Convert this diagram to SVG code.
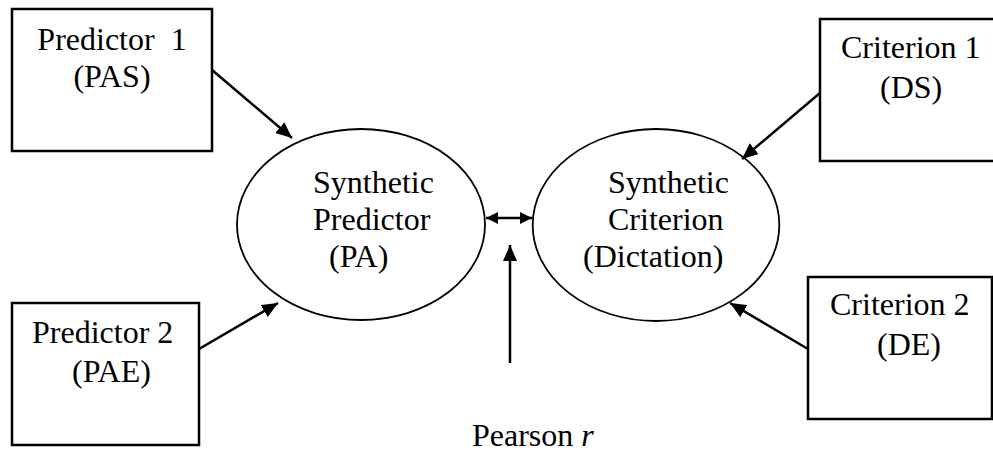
<svg xmlns="http://www.w3.org/2000/svg" width="993" height="452" viewBox="0 0 993 452">
<style>
text{font-family:"Liberation Serif","Times New Roman",serif;font-size:32px;fill:#000}
.box{fill:#fff;stroke:#000;stroke-width:2.5}
.ell{fill:#fff;stroke:#000;stroke-width:1.8}
.con{stroke:#000;stroke-width:2.5;fill:none}
</style>
<defs>
<marker id="ah" markerUnits="userSpaceOnUse" markerWidth="18" markerHeight="14" refX="16" refY="7" orient="auto-start-reverse" viewBox="0 0 18 14">
<path d="M0,0 L16,7 L0,14 z" fill="#000"/>
</marker>
<marker id="ahs" markerUnits="userSpaceOnUse" markerWidth="13" markerHeight="12" refX="12" refY="6" orient="auto-start-reverse" viewBox="0 0 13 12">
<path d="M0,0 L12,6 L0,12 z" fill="#000"/>
</marker>
</defs>
<g id="predictor1">
<rect class="box" x="12" y="9" width="200" height="142"/>
<text x="112" y="50" text-anchor="middle" xml:space="preserve">Predictor  1</text>
<text x="112" y="87" text-anchor="middle">(PAS)</text>
</g>
<g id="predictor2">
<rect class="box" x="12" y="303" width="187" height="142"/>
<text x="32" y="343">Predictor 2</text>
<text x="72" y="382">(PAE)</text>
</g>
<g id="criterion1">
<rect class="box" x="820" y="19" width="180" height="142"/>
<text x="841" y="58">Criterion 1</text>
<text x="880" y="98">(DS)</text>
</g>
<g id="criterion2">
<rect class="box" x="808" y="277" width="184" height="142"/>
<text x="830" y="315">Criterion 2</text>
<text x="877" y="355">(DE)</text>
</g>
<g id="synthetic-predictor">
<ellipse class="ell" cx="361" cy="224.5" rx="124" ry="95.5"/>
<text x="313" y="193">Synthetic</text>
<text x="313" y="230">Predictor</text>
<text x="329" y="267">(PA)</text>
</g>
<g id="synthetic-criterion">
<ellipse class="ell" cx="656" cy="225" rx="123.3" ry="96"/>
<text x="608" y="193">Synthetic</text>
<text x="608" y="230">Criterion</text>
<text x="583" y="267">(Dictation)</text>
</g>
<g id="pearson-label">
<text x="472" y="446">Pearson <tspan font-style="italic">r</tspan></text>
</g>
<g id="connectors">
<line class="con" x1="212" y1="70" x2="292" y2="138" marker-end="url(#ah)"/>
<line class="con" x1="199" y1="349" x2="278" y2="303" marker-end="url(#ah)"/>
<line class="con" x1="820" y1="93" x2="742" y2="159" marker-end="url(#ah)"/>
<line class="con" x1="808" y1="349" x2="730" y2="303" marker-end="url(#ah)"/>
<line class="con" x1="486" y1="218" x2="532" y2="218" marker-start="url(#ahs)" marker-end="url(#ahs)"/>
<line class="con" x1="510" y1="363" x2="510" y2="245" marker-end="url(#ah)"/>
</g>
</svg>
